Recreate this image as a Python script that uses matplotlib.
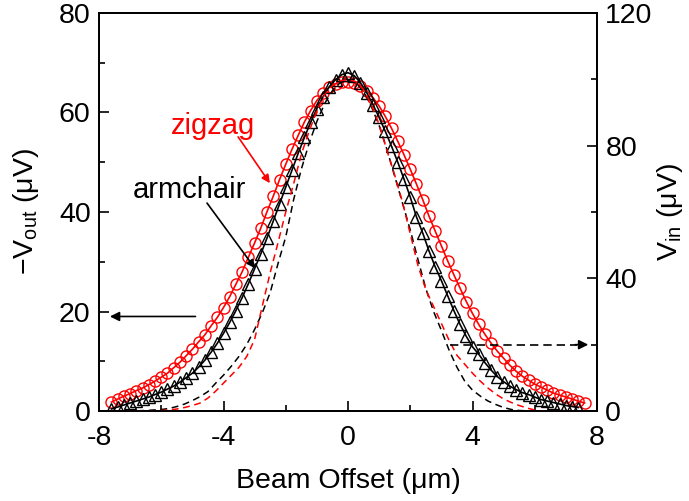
import numpy as np
import matplotlib
matplotlib.use("Agg")
import matplotlib.pyplot as plt
from matplotlib.ticker import MultipleLocator

plt.rcParams['font.family'] = ['Liberation Sans', 'DejaVu Sans']
plt.rcParams['mathtext.fontset'] = 'custom'
plt.rcParams['mathtext.rm'] = 'Liberation Sans'
plt.rcParams['mathtext.it'] = 'Liberation Sans'
plt.rcParams['axes.unicode_minus'] = False

# --- measured -V_out (uV) vs beam offset (um) ---
x_zigzag = np.round(np.arange(-7.6, 7.61, 0.2), 2)
v_zigzag = [1.8, 2.4, 3.0, 3.5, 4.1, 4.6, 5.3, 6.0, 6.8, 7.6,
            8.7, 9.8, 11.1, 12.4, 13.9, 15.3, 17.1, 18.8, 20.8, 23.0,
            25.5, 28.0, 30.9, 33.8, 36.8, 40.1, 43.2, 46.5, 49.6, 52.6,
            55.4, 58.1, 60.4, 62.4, 64.0, 65.1, 65.8, 66.2, 66.2, 66.0,
            65.4, 64.4, 63.0, 61.3, 59.2, 56.8, 54.2, 51.5, 48.6, 45.6,
            42.5, 39.2, 36.2, 33.2, 30.2, 27.4, 24.7, 22.0, 19.6, 17.4,
            15.4, 13.6, 12.0, 10.6, 9.2, 8.0, 7.0, 6.2, 5.4, 4.8,
            4.2, 3.6, 3.2, 2.8, 2.4, 2.0, 1.6]

x_armchair = np.round(np.arange(-7.6, 7.41, 0.2), 2)
v_armchair = [0.4, 0.8, 1.2, 1.6, 2.0, 2.4, 2.8, 3.3, 3.8, 4.4,
              5.0, 5.8, 6.7, 7.6, 8.8, 10.2, 11.8, 13.6, 15.6, 17.8,
              20.2, 22.8, 25.6, 28.6, 31.6, 34.8, 38.2, 41.6, 45.0, 48.4,
              51.8, 55.0, 58.0, 60.8, 63.2, 65.2, 66.6, 67.6, 68.0, 67.4,
              66.0, 64.0, 61.6, 59.0, 56.2, 53.2, 50.0, 46.6, 43.0, 39.0,
              35.8, 32.2, 29.0, 26.2, 23.2, 20.2, 17.4, 15.0, 12.9, 11.4,
              9.7, 8.2, 6.9, 5.9, 5.0, 4.3, 3.7, 3.3, 2.8, 2.3,
              2.0, 1.7, 1.4, 1.1, 0.9, 0.7]

# --- V_in (uV) profiles, right axis ---
x_vin = [-7.5, -7.0, -6.5, -6.0, -5.75, -5.5, -5.25, -5.0, -4.75, -4.5,
         -4.25, -4.0, -3.75, -3.5, -3.25, -3.0, -2.75, -2.5, -2.25, -2.0,
         -1.75, -1.5, -1.25, -1.0, -0.75, -0.5, -0.25, 0.0, 0.25, 0.5,
         0.75, 1.0, 1.25, 1.5, 1.75, 2.0, 2.25, 2.5, 2.75, 3.0,
         3.25, 3.5, 3.75, 4.0, 4.25, 4.5, 4.75, 5.0, 5.25, 5.5,
         5.75, 6.0, 6.25, 6.5, 7.0, 7.5]
vin_armchair = [0.0, 0.0, 0.15, 0.45, 0.75, 1.35, 2.1, 3.15, 4.35, 5.85,
                8.4, 10.8, 13.5, 16.5, 20.1, 24.6, 29.7, 35.7, 44.4, 52.5,
                63.6, 72.9, 80.7, 87.3, 92.7, 96.6, 99.0, 99.75, 99.0, 96.3,
                91.8, 86.1, 78.9, 70.8, 62.7, 54.6, 45.6, 36.9, 30.0, 24.3,
                18.3, 13.2, 9.0, 6.3, 4.5, 3.0, 1.95, 1.05, 0.45, 0.15,
                0.05, 0.0, 0.0, 0.0, 0.0, 0.0]
vin_zigzag = [0.0, 0.0, 0.0, 0.15, 0.3, 0.6, 1.05, 1.65, 2.4, 3.9,
              6.0, 8.4, 10.8, 13.2, 16.5, 21.6, 31.8, 41.7, 50.7, 60.0,
              68.4, 77.4, 84.3, 90.6, 95.4, 98.1, 99.6, 99.9, 99.3, 96.9,
              92.4, 86.4, 78.6, 71.1, 63.0, 53.4, 43.8, 36.6, 31.5, 26.4,
              21.3, 16.8, 14.1, 11.4, 9.0, 6.9, 5.1, 3.6, 2.55, 1.65,
              0.9, 0.3, 0.0, 0.0, 0.0, 0.0]

fig = plt.figure(figsize=(6.89, 5.01), dpi=100)
ax = fig.add_axes([99/689, 1 - 411/501, (597 - 99)/689, (411 - 13)/501])
ax2 = ax.twinx()

red = '#ff0000'
ax.plot(x_zigzag, v_zigzag, '-', color=red, lw=1.2, marker='o', ms=8.0,
        mfc='none', mec=red, mew=1.0, zorder=3)
ax.plot(x_armchair, v_armchair, '-', color='black', lw=1.2, marker='^', ms=8.8,
        mfc='none', mec='black', mew=1.0, zorder=4)

ax2.plot(x_vin, vin_armchair, color='black', lw=1.1, ls=(0, (4.5, 3)))
ax2.plot(x_vin, vin_zigzag, color=red, lw=1.1, ls=(0, (4.5, 3)))

ax.set_xlim(-8, 8)
ax.set_ylim(0, 80)
ax2.set_ylim(0, 120)

ax.xaxis.set_major_locator(MultipleLocator(4))
ax.xaxis.set_minor_locator(MultipleLocator(2))
ax.yaxis.set_major_locator(MultipleLocator(20))
ax.yaxis.set_minor_locator(MultipleLocator(10))
ax2.yaxis.set_major_locator(MultipleLocator(40))
ax2.yaxis.set_minor_locator(MultipleLocator(20))

for a in (ax, ax2):
    a.tick_params(which='major', direction='in', length=7, width=1.2,
                  labelsize=20.5, pad=6)
    a.tick_params(which='minor', direction='in', length=4, width=1.2)
    for s in a.spines.values():
        s.set_linewidth(1.3)
ax.tick_params(axis='x', which='major', pad=10)
ax.tick_params(which='both', top=False, right=False)
ax2.tick_params(which='both', left=False, right=True)

ax.set_xlabel('Beam Offset (\u03bcm)', fontsize=20.5, labelpad=12)
ax.set_ylabel('\u2212V$_{\\mathrm{out}}$ (\u03bcV)', fontsize=20.5, labelpad=13)
ax2.set_ylabel('V$_{\\mathrm{in}}$ (\u03bcV)', fontsize=20.5, labelpad=2)

# curve labels with pointers
ax.text(-4.35, 55.7, 'zigzag', color=red, fontsize=21, ha='center', va='baseline')
ax.annotate('', xy=(-2.51, 45.8), xytext=(-3.53, 55.1),
            arrowprops=dict(arrowstyle='-|>', color=red, lw=1.2,
                            mutation_scale=12, shrinkA=0, shrinkB=0))
ax.text(-5.09, 42.8, 'armchair', color='black', fontsize=21, ha='center', va='baseline')
ax.annotate('', xy=(-2.99, 28.7), xytext=(-4.53, 41.8),
            arrowprops=dict(arrowstyle='-|>', color='black', lw=1.2,
                            mutation_scale=12, shrinkA=0, shrinkB=0))

# axis pointers
ax.annotate('', xy=(-7.65, 19.0), xytext=(-4.9, 19.0),
            arrowprops=dict(arrowstyle='-|>', color='black', lw=1.2,
                            mutation_scale=14, shrinkA=0, shrinkB=0))
ax2.plot([3.29, 7.35], [20, 20], color='black', lw=1.2, ls=(0, (5, 3)))
ax2.annotate('', xy=(7.72, 20), xytext=(7.3, 20),
             arrowprops=dict(arrowstyle='-|>', color='black', lw=1.2,
                             mutation_scale=14, shrinkA=0, shrinkB=0))

fig.savefig('out.png', dpi=100)
